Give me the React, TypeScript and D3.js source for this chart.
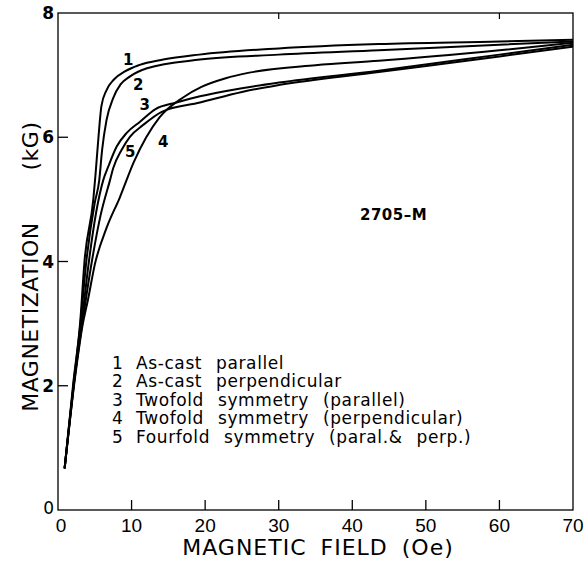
import React from 'react';
import * as d3 from 'd3';

// magnetization curves, field in Oe, magnetization in kG
const field1 = [0.9, 2.1, 3.0, 3.6, 4.8, 5.1, 5.5, 5.9, 6.6, 7.6, 9.1, 11, 14.3, 19.2, 30, 43.6, 60, 70];
const mag1 = [0.67, 2.07, 3.0, 4.0, 5.0, 5.4, 6.0, 6.5, 6.76, 6.93, 7.06, 7.16, 7.25, 7.33, 7.43, 7.5, 7.54, 7.57];

const field2 = [0.9, 2.15, 3.05, 3.85, 5.0, 5.6, 6.0, 6.6, 7.5, 8.5, 9.8, 12.1, 19.3, 30, 43.6, 60, 70];
const mag2 = [0.67, 2.07, 3.0, 4.0, 4.95, 5.3, 5.8, 6.28, 6.63, 6.85, 6.98, 7.11, 7.25, 7.33, 7.4, 7.49, 7.54];

const field3 = [0.9, 2.2, 3.2, 4.2, 5.2, 6.15, 6.84, 7.98, 9.34, 11.15, 13.2, 16.1, 19.3, 25, 30, 43.6, 60, 70];
const mag3 = [0.67, 2.07, 3.0, 4.0, 4.8, 5.31, 5.53, 5.85, 6.07, 6.25, 6.45, 6.56, 6.66, 6.79, 6.88, 7.07, 7.33, 7.49];

const field4 = [0.9, 2.25, 3.3, 4.1, 5.0, 6.6, 8.4, 10.3, 13.8, 17, 19.5, 22.8, 26, 35, 43.6, 60, 70];
const mag4 = [0.67, 2.07, 2.95, 3.4, 3.95, 4.54, 5.03, 5.6, 6.32, 6.64, 6.81, 6.95, 7.04, 7.16, 7.23, 7.4, 7.52];

const field5 = [0.9, 2.2, 3.3, 4.6, 5.8, 7.07, 7.5, 8.66, 9.8, 11.6, 14.1, 19.3, 25, 30, 43.6, 60, 70];
const mag5 = [0.67, 2.07, 3.0, 4.0, 4.75, 5.31, 5.5, 5.8, 6.01, 6.2, 6.41, 6.56, 6.73, 6.84, 7.05, 7.3, 7.46];

const curveFields = [field1, field2, field3, field4, field5];
const curveMags = [mag1, mag2, mag3, mag4, mag5];

// curve number tags (data coordinates)
const tagNames = ['1', '2', '3', '4', '5'];
const tagField = [9.56, 10.9, 11.8, 14.3, 9.8];
const tagMag = [7.25, 6.84, 6.52, 5.93, 5.77];

const legendLabels = [
  'As-cast parallel',
  'As-cast perpendicular',
  'Twofold symmetry (parallel)',
  'Twofold symmetry (perpendicular)',
  'Fourfold symmetry (paral.& perp.)',
];

const xTicks = [0, 10, 20, 30, 40, 50, 60, 70];
const yTicks = [0, 2, 4, 6, 8];
const topTicks = [30, 60];
const sampleName = '2705\u2013M';

const W = 586;
const H = 562;
const left = 58;
const right = 573;
const top = 13;
const bottom = 510;

const FONT = '"DejaVu Sans", sans-serif';

export default function App() {
  const x = d3.scaleLinear().domain([0, 70]).range([left, right]);
  const y = d3.scaleLinear().domain([0, 8]).range([bottom, top]);

  const line = d3
    .line<[number, number]>()
    .x((d) => x(d[0]))
    .y((d) => y(d[1]))
    .curve(d3.curveMonotoneX);

  return (
    <svg
      width={W}
      height={H}
      style={{ position: 'absolute', left: 0, top: 0, background: '#fff' }}
      fontFamily={FONT}
    >
      <rect x={0} y={0} width={W} height={H} fill="#fff" />

      {/* frame */}
      <rect x={left} y={top} width={right - left} height={bottom - top} fill="none" stroke="#000" strokeWidth={1.3} />

      {/* ticks */}
      {xTicks.slice(1, -1).map((t) => (
        <line key={'bx' + t} x1={x(t)} x2={x(t)} y1={bottom} y2={bottom - 10} stroke="#000" strokeWidth={1.3} />
      ))}
      {topTicks.map((t) => (
        <line key={'tx' + t} x1={x(t)} x2={x(t)} y1={top} y2={top + 6} stroke="#000" strokeWidth={1.2} />
      ))}
      {yTicks.slice(1, -1).map((t) => (
        <line key={'ly' + t} x1={left} x2={left + 10} y1={y(t)} y2={y(t)} stroke="#000" strokeWidth={1.3} />
      ))}

      {/* tick labels */}
      {xTicks.map((t) => (
        <text
          key={'xl' + t}
          x={x(t) + (t === 0 ? 3 : 0)}
          y={532}
          fontSize={19}
          fontFamily='"Liberation Sans", sans-serif'
          textAnchor="middle"
        >
          {t}
        </text>
      ))}
      {yTicks.map((t) => (
        <text
          key={'yl' + t}
          x={54}
          y={y(t) + (t === 0 ? 4 : 6)}
          fontSize={17}
          fontWeight={t === 0 ? 'normal' : 'bold'}
          textAnchor="end"
        >
          {t}
        </text>
      ))}

      {/* axis titles */}
      <text x={318} y={555} fontSize={22} textAnchor="middle" letterSpacing={1} wordSpacing={6}>
        MAGNETIC FIELD (Oe)
      </text>
      <text transform={`translate(38,317) rotate(-90)`} fontSize={22} textAnchor="middle" letterSpacing={0.5}>
        MAGNETIZATION
      </text>
      <text transform={`translate(38,146) rotate(-90)`} fontSize={22} textAnchor="middle" letterSpacing={0.5}>
        (kG)
      </text>

      {/* curves */}
      {curveFields.map((f, i) => (
        <path
          key={'c' + i}
          d={line(f.map((v, j) => [v, curveMags[i][j]] as [number, number])) || ''}
          fill="none"
          stroke="#000"
          strokeWidth={2}
        />
      ))}

      {/* curve tags */}
      {tagNames.map((n, i) => (
        <text
          key={'tag' + n}
          x={x(tagField[i])}
          y={y(tagMag[i])}
          fontSize={15}
          fontWeight="bold"
          textAnchor="middle"
          dominantBaseline="central"
        >
          {n}
        </text>
      ))}

      {/* sample name */}
      <text x={x(41.05)} y={y(4.67)} fontSize={15} fontWeight="bold" letterSpacing={0.5}>
        {sampleName}
      </text>

      {/* legend */}
      {legendLabels.map((l, i) => (
        <g key={'lg' + i}>
          <text x={112} y={368.5 + 18.5 * i} fontSize={17}>
            {i + 1}
          </text>
          <text x={136} y={368.5 + 18.5 * i} fontSize={17} letterSpacing={0.6} wordSpacing={8}>
            {l}
          </text>
        </g>
      ))}
    </svg>
  );
}
